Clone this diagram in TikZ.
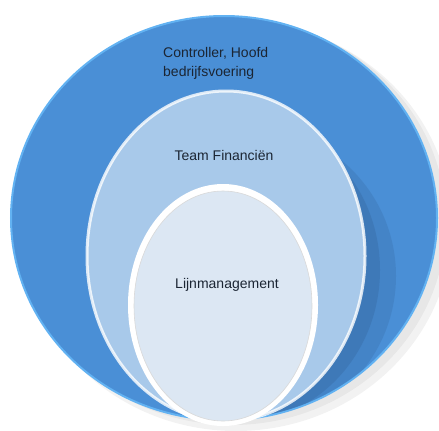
\documentclass[tikz,border=0pt]{standalone}
\usepackage{fontspec}
\setmainfont{Liberation Sans}
\usepackage{tikz}
\usetikzlibrary{shapes.geometric}
\definecolor{outerblue}{HTML}{4A8FD6}
\definecolor{rimblue}{HTML}{62B2F2}
\definecolor{deepblue}{HTML}{35679E}
\definecolor{midblue}{HTML}{A8C9EA}
\definecolor{paleblue}{HTML}{DCE7F3}
\definecolor{txt}{HTML}{1B2533}

\begin{document}
\begin{tikzpicture}[x=1bp, y=-1bp,
    ring/.style={shape=ellipse, inner sep=0pt, outer sep=0pt},
    lbl/.style={font=\fontsize{14bp}{19bp}\selectfont, text=txt, inner sep=0pt}]
    \useasboundingbox (0,0) rectangle (439,430);

    % shadow under the big circle
    \fill[gray, opacity=0.10] (236,226) ellipse (216bp and 205bp);
    \fill[gray, opacity=0.10] (232,222) ellipse (214bp and 203bp);

    \node[ring, fill=outerblue, draw=rimblue, line width=2bp,
          minimum width=426bp, minimum height=404bp] (outer) at (224,218) {};

    % darker band right of the middle ellipse
    \begin{scope}
      \clip (224,218) ellipse (212bp and 201bp);
      \fill[deepblue, opacity=0.25] (246,276) ellipse (150bp and 150bp);
      \fill[deepblue, opacity=0.35] (238,270) ellipse (142bp and 152bp);
    \end{scope}

    \node[ring, fill=midblue, draw=white, line width=3bp, draw opacity=0.8,
          minimum width=278bp, minimum height=330bp] (middle) at (226,256) {};

    \node[ring, fill=white, minimum width=190bp, minimum height=242bp] (inner) at (223,305) {};
    \node[ring, fill=paleblue, draw=gray!30, line width=0.6bp,
          minimum width=178bp, minimum height=230bp] (core) at (223,306) {};

    \node[lbl, anchor=north west, align=left] (ctrl) at (163,47) {Controller, Hoofd\\bedrijfsvoering};
    \node[lbl, anchor=base] (team) at (224,160) {Team Financiën};
    \node[lbl, anchor=base] (lijn) at (227,288) {Lijnmanagement};
\end{tikzpicture}
\end{document}
